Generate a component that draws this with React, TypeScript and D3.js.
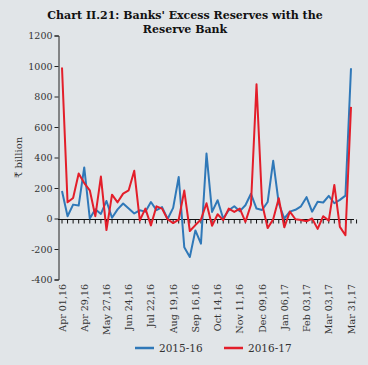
import React, { useEffect, useRef } from 'react';
import * as d3 from 'd3';

// weekly observations, Apr 01 to Mar 31 (53 weeks)
const weekLabels = [
  'Apr 01,16', 'Apr 29,16', 'May 27,16', 'Jun 24,16', 'Jul 22,16', 'Aug 19,16', 'Sep 16,16',
  'Oct 14,16', 'Nov 11,16', 'Dec 09,16', 'Jan 06,17', 'Feb 03,17', 'Mar 03,17', 'Mar 31,17',
];

const series1516 = [
  180, 15, 91, 85, 335, 0, 60, 30, 115, 5, 60, 98, 65, 33, 54, 45, 108, 55, 75, -3, 70, 272,
  -188, -252, -78, -165, 426, 43, 120, 0, 54, 80, 48, 87, 162, 65, 56, 108, 378, 100, 0, 45,
  57, 80, 140, 45, 110, 105, 148, 100, 122, 150, 985,
];

const series1617 = [
  990, 106, 135, 295, 232, 185, 15, 275, -76, 156, 106, 163, 185, 313, -12, 65, -45, 80, 65,
  -5, -30, -8, 183, -82, -43, -7, 100, -48, 28, -11, 65, 43, 65, -22, 90, 880, 98, -63, -5,
  133, -58, 45, -5, -10, -18, 0, -68, 15, -14, 220, -55, -110, 732,
];

const yTicks = [-400, -200, 0, 200, 400, 600, 800, 1000, 1200];

const legendItems = [
  { name: '2015-16', color: '#2f78b8' },
  { name: '2016-17', color: '#e31e2a' },
];

const W = 368;
const H = 365;
const BG = '#e1e5e8';
const FONT = '"DejaVu Serif", serif';

const App: React.FC = () => {
  const svgRef = useRef<SVGSVGElement>(null);

  useEffect(() => {
    document.body.style.margin = '0';
    if (!svgRef.current) return;
    const svg = d3.select(svgRef.current);
    svg.selectAll('*').remove();

    const margin = { top: 35.5, left: 58, right: 15, bottom: 86 };

    const x = d3.scaleLinear()
      .domain([0, series1516.length - 1])
      .range([62, 351]);

    const y = d3.scaleLinear()
      .domain([-400, 1200])
      .range([H - margin.bottom + 0.5, margin.top]);

    svg.append('rect')
      .attr('width', W)
      .attr('height', H)
      .style('fill', BG);

    // Title
    const title = svg.append('text')
      .style('text-anchor', 'middle')
      .style('font-family', FONT)
      .style('font-size', '11px')
      .style('font-weight', 'bold')
      .style('fill', '#111');
    title.append('tspan').attr('x', 185).attr('y', 19).text("Chart II.21: Banks' Excess Reserves with the");
    title.append('tspan').attr('x', 185).attr('y', 33).text('Reserve Bank');

    // Y axis
    const yAxis = d3.axisLeft(y)
      .tickValues(yTicks)
      .tickSize(4)
      .tickPadding(2)
      .tickFormat(d => String(d));

    const gy = svg.append('g')
      .attr('transform', `translate(${margin.left + 0.5},0)`)
      .call(yAxis);
    gy.select('.domain').style('stroke', '#222');
    gy.selectAll('.tick line').style('stroke', '#222');
    gy.selectAll('.tick text')
      .style('font-family', FONT)
      .style('font-size', '9.5px')
      .style('fill', '#333');

    svg.append('text')
      .attr('transform', `translate(22,${y(400)}) rotate(-90)`)
      .style('text-anchor', 'middle')
      .style('font-family', FONT)
      .style('font-size', '10px')
      .style('fill', '#333')
      .text('₹ billion');

    // Zero line with weekly ticks
    const zeroY = Math.round(y(0)) + 0.5;
    svg.append('line')
      .attr('x1', margin.left)
      .attr('x2', 354)
      .attr('y1', zeroY)
      .attr('y2', zeroY)
      .style('stroke', '#111')
      .style('stroke-width', 1.2);

    svg.append('g')
      .selectAll('line')
      .data(d3.range(series1516.length + 1))
      .enter().append('line')
      .attr('x1', d => x(d))
      .attr('x2', d => x(d))
      .attr('y1', zeroY)
      .attr('y2', zeroY + 4)
      .style('stroke', '#111')
      .style('stroke-width', 1);

    // X labels every four weeks
    svg.append('g')
      .selectAll('text')
      .data(weekLabels)
      .enter().append('text')
      .attr('transform', (d, i) => `translate(${x(i * 4) + 3.5},284) rotate(-90)`)
      .style('text-anchor', 'end')
      .style('font-family', FONT)
      .style('font-size', '9.5px')
      .style('fill', '#333')
      .text(d => d);

    // Lines
    const line = d3.line<number>()
      .x((d, i) => x(i))
      .y(d => y(d));

    [series1516, series1617].forEach((s, k) => {
      svg.append('path')
        .datum(s)
        .attr('d', line)
        .style('fill', 'none')
        .style('stroke', legendItems[k].color)
        .style('stroke-width', 2)
        .style('stroke-linejoin', 'round');
    });

    // Legend
    const legend = svg.append('g').attr('transform', 'translate(135,348)');
    legendItems.forEach((item, i) => {
      const g = legend.append('g').attr('transform', `translate(${i * 89},0)`);
      g.append('line')
        .attr('x1', 0)
        .attr('x2', 19)
        .style('stroke', item.color)
        .style('stroke-width', 2.5);
      g.append('text')
        .attr('x', 24)
        .attr('dy', '0.35em')
        .style('font-family', FONT)
        .style('font-size', '10.5px')
        .style('fill', '#333')
        .text(item.name);
    });
  }, []);

  return (
    <svg
      ref={svgRef}
      width={W}
      height={H}
      style={{ display: 'block' }}
    />
  );
};

export default App;
